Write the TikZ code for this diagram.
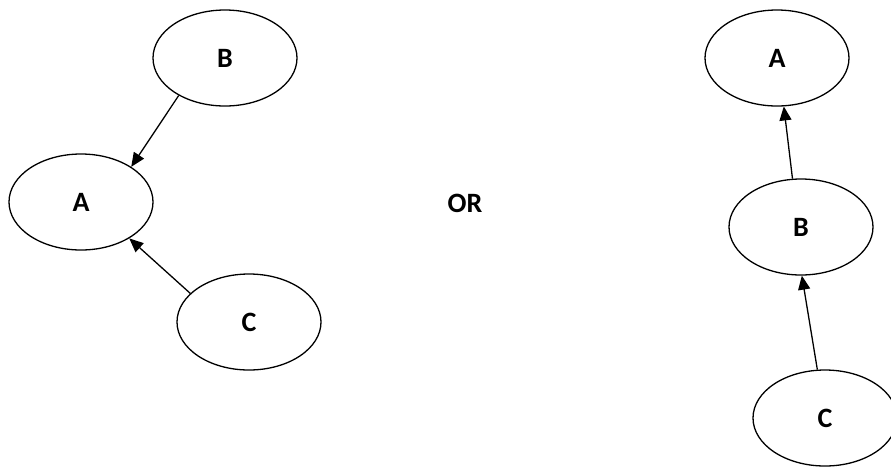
\documentclass[tikz,border=0pt]{standalone}
\usepackage{fontspec}
\setmainfont{Carlito}
\usetikzlibrary{shapes.geometric,arrows.meta}
\begin{document}
\begin{tikzpicture}[x=1pt,y=-1pt,
  ell/.style={draw=black,ellipse,line width=1.3pt,minimum width=144pt,minimum height=96pt,inner sep=0pt,
    font=\fontsize{28}{30}\selectfont\bfseries},
  arr/.style={line width=1.3pt,-{Triangle[length=14pt,width=12pt]}},
  lbl/.style={font=\fontsize{28}{30}\selectfont\bfseries}]
\useasboundingbox (0,0) rectangle (891,467);
% left
\node[ell] (lB) at (225,58) {B};
\node[ell] (lA) at (81,202) {A};
\node[ell] (lC) at (249,322) {C};
\draw[arr] (lB.219.7) -- (lA.35.5);
\draw[arr] (lC.154.6) -- (lA.323.7);
% middle
\node[lbl] (or) at (465,203) {OR};
% right
\node[ell] (rA) at (777,58) {A};
\node[ell] (rB) at (801,227) {B};
\node[ell] (rC) at (825,418) {C};
\draw[arr] (rB.100.2) -- (rA.278.1);
\draw[arr] (rC.99.5) -- (rB.271);
\end{tikzpicture}
\end{document}
